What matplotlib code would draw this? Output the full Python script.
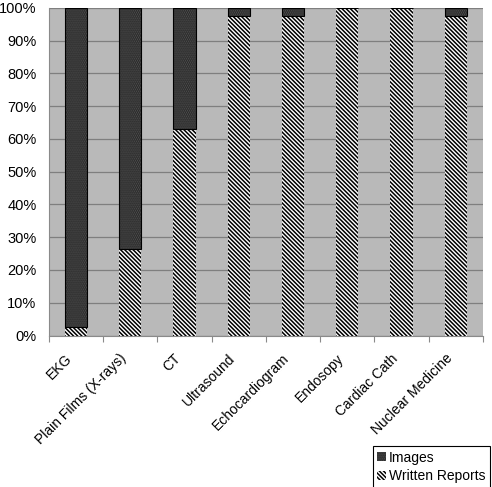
""" Share of images vs written reports by study type. """

import matplotlib.pyplot as plt
import numpy as np

categories = ["EKG", "Plain Films (X-rays)", "CT", "Ultrasound",
              "Echocardiogram", "Endosopy", "Cardiac Cath", "Nuclear Medicine"]
written = [2.5, 26.5, 63.0, 97.5, 97.5, 100.0, 100.0, 97.5]
images = [97.5, 73.5, 37.0, 2.5, 2.5, 0.0, 0.0, 2.5]
yticks = [0, 10, 20, 30, 40, 50, 60, 70, 80, 90, 100]

plt.rcParams['font.family'] = ['Liberation Sans', 'DejaVu Sans']
plt.rcParams['hatch.linewidth'] = 1.1

fig = plt.figure(figsize=(4.92, 4.87), dpi=100)
ax = fig.add_axes([0.0996, 0.311, 0.882, 0.673])
ax.set_facecolor('#b9b9b9')

x = np.arange(len(categories))
width = 0.41
b1 = ax.bar(x, written, width, color='white', edgecolor='black',
            hatch='\\' * 8, linewidth=0, label='Written Reports', zorder=3)
b2 = ax.bar(x, images, width, bottom=written, color='#1a1a1a',
            edgecolor='#585858', hatch='.' * 8, linewidth=0,
            label='Images', zorder=3)
# black outline round the image segments
ax.bar(x, images, width, bottom=written, fill=False, edgecolor='black',
       linewidth=0.8, zorder=4)

ax.set_xlim(-0.5, len(categories) - 0.5)
ax.set_ylim(0, 100)
ax.set_yticks(yticks)
ax.set_yticklabels(["%d%%" % v for v in yticks], fontsize=10.5)
ax.yaxis.grid(True, color='#7f7f7f', linewidth=0.9, zorder=0)
ax.tick_params(axis='y', length=0, pad=9)

# category boundary ticks, labels placed separately
ax.set_xticks(np.arange(len(categories) + 1) - 0.5)
ax.set_xticklabels([])
ax.tick_params(axis='x', length=4, color='#8a8a8a', direction='out')
for i, c in enumerate(categories):
    ax.text(i - 0.2, -4.8, c, rotation=45, ha='right', va='top',
            rotation_mode='anchor', fontsize=10,
            transform=ax.transData, clip_on=False)

for s in ['top', 'right']:
    ax.spines[s].set_visible(False)
for s in ['left', 'bottom']:
    ax.spines[s].set_color('#8a8a8a')

leg = fig.legend([b2, b1], ['Images', 'Written Reports'], loc='lower right',
                 bbox_to_anchor=(0.998, -0.004), fontsize=10, fancybox=False,
                 edgecolor='black', handlelength=0.65, handleheight=0.65,
                 handletextpad=0.2, borderpad=0.3, labelspacing=0.35,
                 borderaxespad=0.1, framealpha=1)
leg.get_frame().set_linewidth(0.8)

fig.savefig("out.png", dpi=100)
